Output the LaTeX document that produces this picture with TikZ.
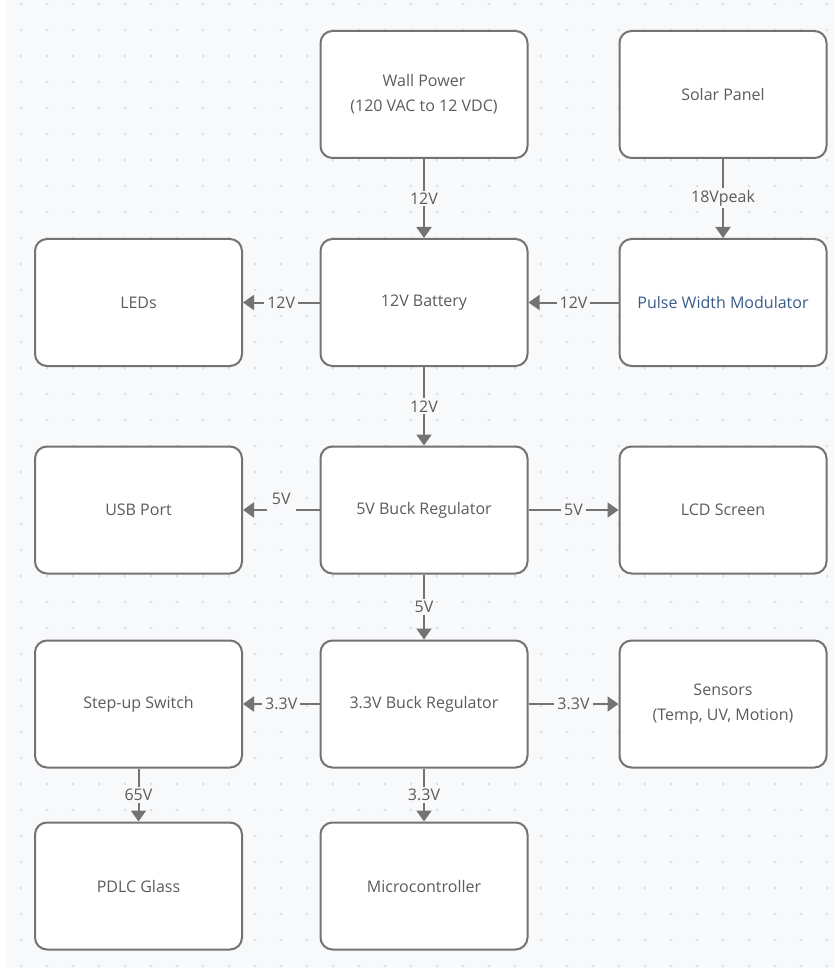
\documentclass[tikz,border=0pt]{standalone}
\usepackage{fontspec}
\setmainfont{Open Sans}
\usetikzlibrary{arrows.meta}
\definecolor{bg}{HTML}{F8F9FB}
\definecolor{dotc}{HTML}{DCDDDF}
\definecolor{edgec}{HTML}{737373}
\definecolor{txt}{HTML}{5C5C5C}
\definecolor{pwmc}{HTML}{3B5B8C}
\begin{document}
\begin{tikzpicture}[x=1pt,y=-1pt,
  box/.style={draw=edgec, line width=2pt, fill=white, rounded corners=12pt,
    minimum width=207pt, minimum height=127pt, text=txt,
    font=\fontsize{16}{25}\selectfont, align=center, inner sep=0pt},
  conn/.style={draw=edgec, line width=2pt, -{Triangle[width=15pt,length=11pt]}},
  lbl/.style={fill=bg, text=txt, font=\fontsize{16}{18}\selectfont, inner xsep=3pt, inner ysep=2pt},
  gapbox/.style={fill=bg, minimum width=29pt, minimum height=5pt, inner sep=0pt}]
\useasboundingbox (0,0) rectangle (835,968);
\fill[white] (0,0) rectangle (835,968);
\fill[bg] (7,0) rectangle (835,968);
\foreach \i in {0,...,31}
  \foreach \j in {0,...,37}
    \fill[dotc] (21+26*\i, 4+26*\j) circle (1.3pt);

\node[box] (wall) at (424,94.5) {Wall Power\\(120 VAC to 12 VDC)};
\node[box] (solar) at (723,94.5) {Solar Panel};
\node[box] (leds) at (138.5,302.5) {LEDs};
\node[box] (bat) at (424,302.5) {12V Battery};
\node[box, text=pwmc] (pwm) at (723,302.5) {Pulse Width Modulator};
\node[box] (usb) at (138.5,510) {USB Port};
\node[box] (b5) at (424,510) {5V Buck Regulator};
\node[box] (lcd) at (723,510) {LCD Screen};
\node[box] (step) at (138.5,704) {Step-up Switch};
\node[box] (b33) at (424,704) {3.3V Buck Regulator};
\node[box] (sens) at (723,704) {Sensors\\(Temp, UV, Motion)};
\node[box] (pdlc) at (138.5,886) {PDLC Glass};
\node[box] (mcu) at (424,886) {Microcontroller};

\draw[conn] (wall) -- node[lbl] {12V} (bat);
\draw[conn] (solar) -- node[lbl] {18Vpeak} (pwm);
\draw[conn] (bat) -- node[lbl] {12V} (leds);
\draw[conn] (pwm) -- node[lbl] {12V} (bat);
\draw[conn] (bat) -- node[lbl] {12V} (b5);
\draw[conn] (b5) -- node[gapbox] {} (usb);
\path (b5) -- node[lbl, yshift=11pt] {5V} (usb);
\draw[conn] (b5) -- node[lbl] {5V} (lcd);
\draw[conn] (b5) -- node[lbl] {5V} (b33);
\draw[conn] (b33) -- node[lbl] {3.3V} (step);
\draw[conn] (b33) -- node[lbl] {3.3V} (sens);
\draw[conn] (step) -- node[lbl] {65V} (pdlc);
\draw[conn] (b33) -- node[lbl] {3.3V} (mcu);
\end{tikzpicture}
\end{document}
